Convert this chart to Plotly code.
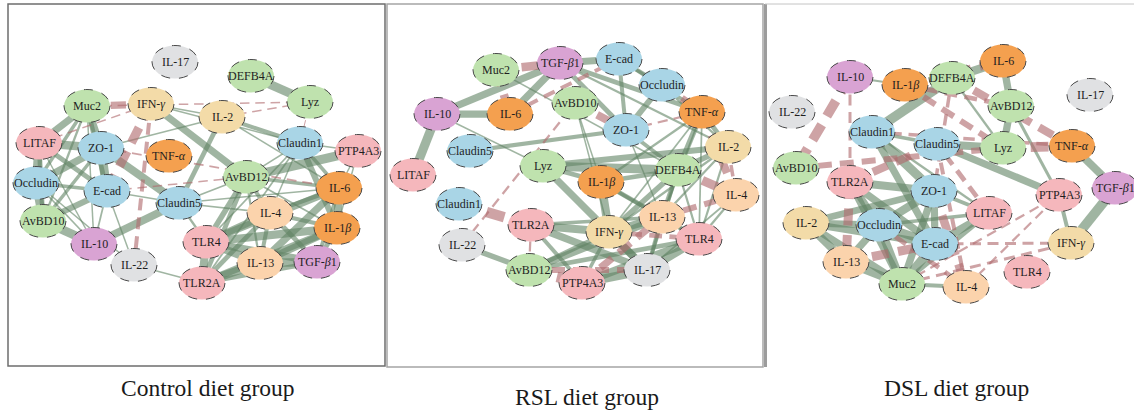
import plotly.graph_objects as go

W, H = 1134, 410

# ---------------- panel titles ----------------
panel_titles = ["Control diet group", "RSL diet group", "DSL diet group"]

# ---------------- gene groups ----------------
tight_junction = ["Occludin", "ZO-1", "E-cad", "Claudin1", "Claudin5"]
antimicrobial = ["Muc2", "DEFB4A", "Lyz", "AvBD10", "AvBD12"]
receptors = ["LITAF", "PTP4A3", "TLR4", "TLR2A"]
pro_inflammatory = ["TNF-α", "IL-6", "IL-1β"]
th2_cytokines = ["IL-4", "IL-13"]
th1_cytokines = ["IFN-γ", "IL-2"]
anti_inflammatory = ["IL-10", "TGF-β1"]
other_cytokines = ["IL-17", "IL-22"]

# ---------------- Control network ----------------
control_nodes = ["IL-17", "DEFB4A", "Lyz", "Muc2", "IFN-γ", "IL-2", "LITAF", "ZO-1",
                 "TNF-α", "Claudin1", "PTP4A3", "Occludin", "E-cad", "AvBD12", "IL-6",
                 "Claudin5", "IL-4", "IL-1β", "AvBD10", "IL-10", "TLR4", "IL-22",
                 "IL-13", "TGF-β1", "TLR2A"]
control_x = [175, 251, 310, 87, 151, 222, 39, 101, 169, 300, 358, 36, 107, 246, 339,
             179, 270, 337, 43, 94, 206, 134, 260, 317, 202]
control_y = [62, 76, 102, 106, 104, 117, 143, 148, 156, 143, 151, 183, 191, 177, 188,
             203, 213, 228, 221, 244, 242, 265, 263, 262, 283]
control_edges = [
    ("Muc2", "LITAF", 0.85), ("Muc2", "ZO-1", 0.85), ("Muc2", "Occludin", 0.70),
    ("Muc2", "E-cad", 0.75), ("Muc2", "AvBD10", 0.65), ("Muc2", "IL-10", 0.62),
    ("LITAF", "ZO-1", 0.90), ("LITAF", "Occludin", 0.90), ("LITAF", "E-cad", 0.75),
    ("LITAF", "AvBD10", 0.75), ("LITAF", "IL-10", 0.62), ("ZO-1", "Occludin", 0.85),
    ("ZO-1", "E-cad", 0.92), ("ZO-1", "AvBD10", 0.70), ("ZO-1", "IL-2", 0.62),
    ("ZO-1", "Claudin5", 0.88), ("Occludin", "E-cad", 0.70), ("Occludin", "AvBD10", 0.90),
    ("Occludin", "IL-10", 0.63), ("Occludin", "IL-22", 0.62), ("E-cad", "AvBD10", 0.80),
    ("E-cad", "Claudin5", 0.62), ("E-cad", "IL-22", 0.62), ("E-cad", "IL-10", 0.63),
    ("AvBD10", "IL-10", 0.92), ("IL-10", "Claudin5", 0.88), ("IFN-γ", "AvBD12", 0.85),
    ("IFN-γ", "IL-2", 0.62), ("IFN-γ", "Claudin1", 0.62), ("IL-2", "Claudin5", 0.75),
    ("IL-2", "Claudin1", 0.72), ("IL-2", "IL-6", 0.62), ("DEFB4A", "Lyz", 0.92),
    ("Claudin1", "PTP4A3", 0.62), ("Claudin1", "IL-6", 0.70), ("Claudin1", "IL-1β", 0.80),
    ("Claudin1", "AvBD12", 0.62), ("Claudin1", "IL-4", 0.62), ("Claudin1", "TLR4", 0.63),
    ("Claudin1", "TLR2A", 0.63), ("AvBD12", "PTP4A3", 0.92), ("AvBD12", "IL-6", 0.70),
    ("AvBD12", "IL-4", 0.72), ("AvBD12", "TLR4", 0.78), ("AvBD12", "TLR2A", 0.75),
    ("AvBD12", "IL-13", 0.65), ("AvBD12", "Claudin5", 0.63), ("AvBD12", "IL-1β", 0.63),
    ("IL-6", "IL-1β", 0.88), ("IL-6", "IL-4", 0.72), ("IL-6", "TLR4", 0.85),
    ("IL-6", "IL-13", 0.85), ("IL-6", "TGF-β1", 0.72), ("IL-6", "Claudin5", 0.62),
    ("IL-6", "PTP4A3", 0.62), ("IL-1β", "TLR4", 0.88), ("IL-1β", "IL-13", 0.85),
    ("IL-1β", "TGF-β1", 0.75), ("IL-1β", "TLR2A", 0.85), ("IL-1β", "IL-4", 0.72),
    ("IL-1β", "PTP4A3", 0.62), ("IL-4", "TLR4", 0.85), ("IL-4", "IL-13", 0.72),
    ("IL-4", "TGF-β1", 0.75), ("IL-4", "TLR2A", 0.75), ("TLR4", "IL-13", 0.88),
    ("TLR4", "TGF-β1", 0.85), ("TLR4", "TLR2A", 0.88), ("IL-13", "TGF-β1", 0.90),
    ("IL-13", "TLR2A", 0.90), ("TLR2A", "TGF-β1", 0.75), ("TLR2A", "IL-22", 0.62),
    ("Claudin5", "IL-4", 0.63), ("Claudin5", "TLR4", 0.65),
    ("Muc2", "IFN-γ", -0.85), ("IFN-γ", "E-cad", -0.92), ("IFN-γ", "IL-22", -0.72),
    ("Muc2", "Lyz", -0.62), ("IL-2", "Lyz", -0.62), ("ZO-1", "IL-6", -0.63),
    ("E-cad", "AvBD12", -0.62), ("Claudin1", "Lyz", -0.60), ("LITAF", "IFN-γ", -0.62),
]

# ---------------- RSL network ----------------
rsl_nodes = ["Muc2", "TGF-β1", "E-cad", "Occludin", "IL-10", "IL-6", "AvBD10", "TNF-α",
             "ZO-1", "Claudin5", "IL-2", "LITAF", "Lyz", "DEFB4A", "IL-1β", "IL-4",
             "Claudin1", "TLR2A", "IFN-γ", "IL-13", "TLR4", "IL-22", "AvBD12",
             "PTP4A3", "IL-17"]
rsl_x = [496, 560, 619, 662, 437, 510, 575, 702, 626, 470, 728, 413, 543, 678, 601,
         736, 459, 531, 609, 662, 699, 462, 529, 582, 647]
rsl_y = [70, 63, 59, 85, 114, 114, 103, 112, 130, 151, 147, 175, 166, 170, 182, 195,
         204, 225, 232, 217, 239, 245, 270, 283, 270]
rsl_edges = [
    ("IL-10", "TGF-β1", 0.85), ("IL-6", "TGF-β1", 0.85), ("IL-10", "IL-6", 0.85),
    ("IL-10", "LITAF", 0.92), ("IL-10", "Lyz", 0.62), ("Muc2", "DEFB4A", 0.62),
    ("TGF-β1", "E-cad", 0.85), ("TGF-β1", "ZO-1", 0.75), ("TGF-β1", "TNF-α", 0.75),
    ("TGF-β1", "IL-2", 0.65), ("E-cad", "Occludin", 0.72), ("E-cad", "ZO-1", 0.72),
    ("E-cad", "TNF-α", 0.70), ("Occludin", "ZO-1", 0.80), ("Occludin", "IL-2", 0.65),
    ("TNF-α", "IL-2", 0.75), ("TNF-α", "DEFB4A", 0.78), ("TNF-α", "IL-13", 0.63),
    ("TNF-α", "IFN-γ", 0.63), ("TNF-α", "TLR4", 0.63), ("TNF-α", "IL-1β", 0.65),
    ("ZO-1", "Claudin5", 0.72), ("ZO-1", "DEFB4A", 0.72), ("ZO-1", "IL-13", 0.62),
    ("AvBD10", "IL-1β", 0.62), ("AvBD10", "IFN-γ", 0.62), ("Lyz", "DEFB4A", 0.92),
    ("Lyz", "IL-17", 0.85), ("Lyz", "IL-1β", 0.75), ("Lyz", "IL-2", 0.80),
    ("IL-1β", "IFN-γ", 0.90), ("IL-1β", "DEFB4A", 0.75), ("IL-1β", "IL-13", 0.75),
    ("IL-1β", "TLR4", 0.70), ("DEFB4A", "IFN-γ", 0.78), ("DEFB4A", "IL-13", 0.75),
    ("DEFB4A", "IL-2", 0.78), ("DEFB4A", "IL-17", 0.70), ("DEFB4A", "TLR4", 0.65),
    ("IL-2", "IL-13", 0.65), ("IL-2", "TLR4", 0.65), ("IL-2", "IFN-γ", 0.65),
    ("IFN-γ", "TLR2A", 0.88), ("IFN-γ", "IL-13", 0.88), ("IFN-γ", "IL-17", 0.88),
    ("IFN-γ", "AvBD12", 0.75), ("IFN-γ", "PTP4A3", 0.70), ("TLR2A", "IL-17", 0.85),
    ("TLR2A", "PTP4A3", 0.72), ("TLR2A", "IL-13", 0.70), ("AvBD12", "IL-22", 0.78),
    ("AvBD12", "IL-13", 0.85), ("AvBD12", "TLR4", 0.75), ("PTP4A3", "IL-17", 0.90),
    ("PTP4A3", "TLR4", 0.88), ("IL-17", "TLR4", 0.88), ("IL-17", "IL-13", 0.72),
    ("IL-13", "TLR4", 0.75), ("IL-4", "IL-17", 0.63), ("IL-4", "TLR4", 0.65),
    ("Muc2", "IL-6", -0.90), ("Muc2", "TGF-β1", -0.90), ("IL-6", "E-cad", -0.72),
    ("AvBD10", "ZO-1", -0.88), ("Occludin", "TNF-α", -0.85), ("ZO-1", "TNF-α", -0.65),
    ("TNF-α", "IL-4", -0.88), ("DEFB4A", "IL-4", -0.92), ("Claudin1", "TLR2A", -0.98),
    ("IL-22", "AvBD10", -0.65), ("TLR2A", "AvBD12", -0.65), ("AvBD12", "PTP4A3", -0.98),
    ("AvBD12", "IL-17", -0.80), ("PTP4A3", "IL-13", -0.85), ("IL-13", "IL-4", -0.80),
    ("IFN-γ", "TLR4", -0.75), ("IL-2", "IL-4", -0.70),
]

# ---------------- DSL network ----------------
dsl_nodes = ["IL-10", "IL-1β", "DEFB4A", "IL-6", "IL-17", "IL-22", "AvBD12", "Claudin1",
             "Claudin5", "Lyz", "TNF-α", "AvBD10", "TLR2A", "ZO-1", "PTP4A3", "TGF-β1",
             "IL-2", "Occludin", "LITAF", "E-cad", "IFN-γ", "IL-13", "TLR4", "Muc2",
             "IL-4"]
dsl_x = [850, 905, 952, 1003, 1090, 792, 1011, 872, 937, 1003, 1072, 796, 850, 934,
         1059, 1115, 806, 879, 989, 935, 1071, 846, 1027, 902, 966]
dsl_y = [77, 85, 78, 61, 95, 112, 106, 132, 144, 148, 146, 168, 182, 191, 195, 188,
         223, 225, 213, 244, 243, 262, 272, 284, 287]
dsl_edges = [
    ("IL-10", "IL-1β", 0.65), ("DEFB4A", "IL-6", 0.90), ("DEFB4A", "Claudin1", 0.95),
    ("DEFB4A", "Lyz", 0.65), ("IL-6", "AvBD12", 0.85), ("AvBD12", "Lyz", 0.85),
    ("AvBD12", "PTP4A3", 0.68), ("Claudin1", "Claudin5", 0.70), ("Claudin1", "ZO-1", 0.92),
    ("Claudin1", "E-cad", 0.85), ("Claudin1", "LITAF", 0.65), ("Claudin5", "Lyz", 0.88),
    ("Claudin5", "PTP4A3", 0.85), ("TNF-α", "TGF-β1", 0.88), ("TGF-β1", "IFN-γ", 0.95),
    ("PTP4A3", "IFN-γ", 0.72), ("TLR2A", "ZO-1", 0.88), ("TLR2A", "Occludin", 0.85),
    ("TLR2A", "E-cad", 0.85), ("TLR2A", "Muc2", 0.85), ("ZO-1", "IL-2", 0.82),
    ("ZO-1", "Occludin", 0.90), ("ZO-1", "E-cad", 0.85), ("ZO-1", "Muc2", 0.85),
    ("ZO-1", "LITAF", 0.72), ("IL-2", "Occludin", 0.85), ("IL-2", "E-cad", 0.85),
    ("IL-2", "IL-13", 0.88), ("IL-2", "Muc2", 0.85), ("Occludin", "E-cad", 0.90),
    ("Occludin", "Muc2", 0.90), ("Occludin", "IL-13", 0.85), ("Occludin", "LITAF", 0.70),
    ("E-cad", "LITAF", 0.88), ("E-cad", "Muc2", 0.92), ("IL-13", "Muc2", 0.90),
    ("Muc2", "IL-4", 0.72), ("Muc2", "LITAF", 0.75),
    ("IL-10", "AvBD10", -0.95), ("IL-10", "TLR2A", -0.68), ("IL-1β", "IL-6", -0.90),
    ("DEFB4A", "TNF-α", -0.88), ("IL-1β", "Lyz", -0.80), ("AvBD10", "Lyz", -0.80),
    ("TLR2A", "Claudin5", -0.88), ("Lyz", "TNF-α", -0.95), ("Claudin1", "TNF-α", -0.70),
    ("DEFB4A", "ZO-1", -0.70), ("TLR2A", "IL-13", -0.92), ("IL-13", "E-cad", -0.92),
    ("ZO-1", "IL-4", -0.90), ("E-cad", "IFN-γ", -0.68), ("Muc2", "IFN-γ", -0.68),
    ("Muc2", "PTP4A3", -0.65), ("LITAF", "Claudin5", -0.75), ("IL-4", "PTP4A3", -0.65),
    ("Occludin", "IL-4", -0.75), ("Claudin5", "IL-4", -0.72), ("IL-1β", "AvBD12", -0.75),
]

# ---------------- styling ----------------
group_fill = {}
for names, col in [(tight_junction, "#a9d5e6"), (antimicrobial, "#bfe2ae"),
                   (receptors, "#f5b7bc"), (pro_inflammatory, "#f4a04f"),
                   (th2_cytokines, "#fbd3ac"), (th1_cytokines, "#f3dba8"),
                   (anti_inflammatory, "#d9a3d3"), (other_cytokines, "#e0e1e3")]:
    for n in names:
        group_fill[n] = col

POS_COLOR = "rgba(96,132,100,0.6)"
NEG_COLOR = "rgba(176,106,110,0.62)"
RX, RY = 23, 16.5
SERIF = "Liberation Serif, Times New Roman, serif"
LABEL_FONT = dict(family=SERIF, size=12, color="#1e1e1e")


def edge_width(r):
    return max(1.0, 1 + (abs(r) - 0.6) / 0.4 * 10)


def label_html(name):
    for g in "αβγ":
        name = name.replace(g, "<i>" + g + "</i>")
    return name


# panel boxes in page pixels: (left, right, top, bottom)
boxes = [(8, 385, 4, 366), (387, 763, 4, 367), (765, 1134, 4, 367)]
panels = [(control_nodes, control_x, control_y, control_edges),
          (rsl_nodes, rsl_x, rsl_y, rsl_edges),
          (dsl_nodes, dsl_x, dsl_y, dsl_edges)]

fig = go.Figure()
shapes = []
annotations = []
layout_axes = {}

for i, ((nodes, xs, ys, edges), (l, r, t, b)) in enumerate(zip(panels, boxes)):
    ax = "" if i == 0 else str(i + 1)
    xref, yref = "x" + ax, "y" + ax
    pos = {n: (x, y) for n, x, y in zip(nodes, xs, ys)}

    layout_axes["xaxis" + ax] = dict(domain=[l / W, r / W], range=[l, r], visible=False,
                                     fixedrange=True, anchor=yref)
    layout_axes["yaxis" + ax] = dict(domain=[1 - b / H, 1 - t / H], range=[b, t],
                                     visible=False, fixedrange=True, anchor=xref)

    # positive correlations first, negative (dashed) on top
    for sign in (1, -1):
        for a, c, rv in edges:
            if (rv > 0) != (sign > 0):
                continue
            w = edge_width(rv)
            line = dict(width=w, color=POS_COLOR if rv > 0 else NEG_COLOR)
            if rv < 0:
                line["dash"] = f"{8 + 1.0 * w:.1f}px,{5 + 0.5 * w:.1f}px"
            fig.add_trace(go.Scatter(
                x=[pos[a][0], pos[c][0]], y=[pos[a][1], pos[c][1]],
                mode="lines", line=line, xaxis=xref, yaxis=yref,
                hoverinfo="skip", showlegend=False))

    for n, x, y in zip(nodes, xs, ys):
        shapes.append(dict(type="circle", xref=xref, yref=yref,
                           x0=x - RX, x1=x + RX, y0=y - RY, y1=y + RY,
                           fillcolor=group_fill[n], layer="above",
                           line=dict(color="#4a4a4a", width=1, dash="dash")))
        annotations.append(dict(x=x, y=y, xref=xref, yref=yref, text=label_html(n),
                                showarrow=False, font=LABEL_FONT,
                                xanchor="center", yanchor="middle"))

# panel frames
shapes.append(dict(type="rect", xref="paper", yref="paper",
                   x0=8 / W, x1=385 / W, y0=1 - 366 / H, y1=1 - 4 / H,
                   line=dict(color="#6e6e6e", width=1.5), layer="below"))
shapes.append(dict(type="rect", xref="paper", yref="paper",
                   x0=387 / W, x1=763 / W, y0=1 - 367 / H, y1=1 - 4 / H,
                   line=dict(color="#a5a5a5", width=1.5), layer="below"))
shapes.append(dict(type="line", xref="paper", yref="paper",
                   x0=765.5 / W, x1=765.5 / W, y0=1 - 367 / H, y1=1 - 4 / H,
                   line=dict(color="#9c9c9c", width=3), layer="below"))
shapes.append(dict(type="line", xref="paper", yref="paper",
                   x0=765 / W, x1=1134 / W, y0=1 - 4 / H, y1=1 - 4 / H,
                   line=dict(color="#c4c4c4", width=1), layer="below"))

title_pos = [(208, 388), (587, 397), (956, 388)]
for txt, (tx, ty) in zip(panel_titles, title_pos):
    annotations.append(dict(x=tx / W, y=1 - ty / H, xref="paper", yref="paper", text=txt,
                            showarrow=False, xanchor="center", yanchor="middle",
                            font=dict(family=SERIF, size=23.5, color="#1a1a1a")))

fig.update_layout(width=W, height=H, margin=dict(l=0, r=0, t=0, b=0),
                  paper_bgcolor="white", plot_bgcolor="white",
                  shapes=shapes, annotations=annotations, showlegend=False,
                  **layout_axes)

fig.write_html("out.html", config={"displayModeBar": False})
